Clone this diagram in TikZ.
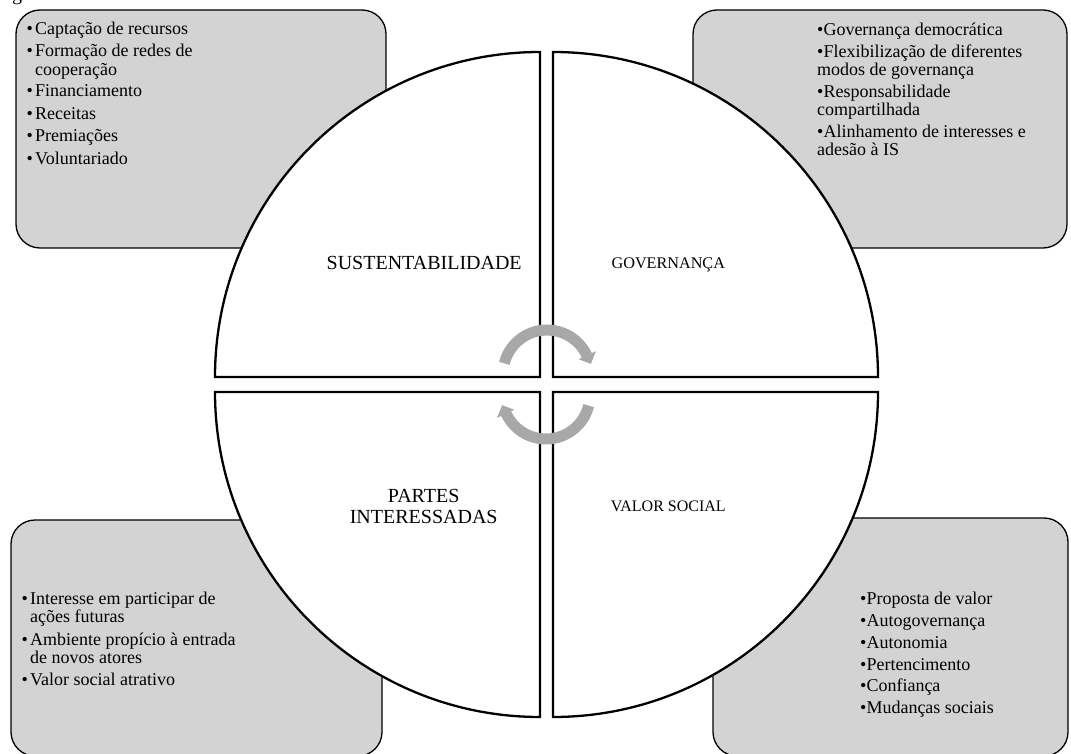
\documentclass[tikz,border=0pt]{standalone}
\usepackage{fontspec}
\setmainfont{Liberation Serif}
\definecolor{boxgray}{RGB}{211,211,211}
\definecolor{arrowgray}{RGB}{168,168,168}
\newcommand{\hbul}{\makebox[8.5pt][l]{\textbullet}}
\newcommand{\tbul}{\textbullet}
\begin{document}
\begin{tikzpicture}[x=1pt,y=-1pt,
  box/.style={draw=black, line width=1.3pt, fill=boxgray, rounded corners=24pt},
  quad/.style={draw=black, line width=2.3pt, fill=white, line join=miter},
  cyc/.style={draw=arrowgray, line width=11pt},
  tipfill/.style={fill=arrowgray},
  item/.style={anchor=base west, inner sep=0pt, font=\fontsize{18}{20}\selectfont},
  qlabel/.style={anchor=base, inner sep=0pt}]
\useasboundingbox (0,0) rectangle (1071,754);
\clip (0,0) rectangle (1071,754);
\fill[white] (0,0) rectangle (1071,754);

% caption fragment
\node[anchor=base west, inner sep=0pt, font=\fontsize{20}{20}\selectfont] (cap) at (12,0.5) {g};

% grey boxes
\draw[box] (16,10) rectangle (386,248);
\draw[box] (693,10) rectangle (1067,248);
\draw[box] (11,520) rectangle (382,756);
\draw[box] (713,518) rectangle (1068,756);

% quadrants
\draw[quad] (540,377) -- (215,377) arc[start angle=180, end angle=270, radius=325] -- cycle;
\draw[quad] (553,377) -- (553,52) arc[start angle=270, end angle=360, radius=325] -- cycle;
\draw[quad] (553,392) -- (878,392) arc[start angle=0, end angle=90, radius=325] -- cycle;
\draw[quad] (540,392) -- (540,717) arc[start angle=90, end angle=180, radius=325] -- cycle;

% cycle arrows
\begin{scope}[shift={(547,374)}]
  \draw[cyc] (194:44) arc[start angle=194, end angle=336, radius=44];
  \fill[tipfill] (335:35) -- (335:54) -- (347:45) -- cycle;
\end{scope}
\begin{scope}[shift={(546,395)}]
  \draw[cyc] (14:44) arc[start angle=14, end angle=156, radius=44];
  \fill[tipfill] (155:35) -- (155:54) -- (167:45) -- cycle;
\end{scope}

% quadrant labels
\node[qlabel, font=\fontsize{20}{21}\selectfont] (sus) at (424.2,269.3) {SUSTENTABILIDADE};
\node[qlabel, font=\fontsize{16.2}{18}\selectfont] (gov) at (668.3,268.3) {GOVERNANÇA};
\node[qlabel, font=\fontsize{20}{21}\selectfont] (par1) at (423.7,502.7) {PARTES};
\node[qlabel, font=\fontsize{20}{21}\selectfont] (par2) at (423.7,523.3) {INTERESSADAS};
\node[qlabel, font=\fontsize{16}{18}\selectfont] (vs) at (668.3,511.7) {VALOR SOCIAL};

% top-left list
\node[item] (tla) at (26.5,35) {\hbul Captação de recursos};
\node[item] (tlb) at (26.5,57) {\hbul Formação de redes de};
\node[item] (tlc) at (35,75.5) {cooperação};
\node[item] (tld) at (26.5,97) {\hbul Financiamento};
\node[item] (tle) at (26.5,120) {\hbul Receitas};
\node[item] (tlf) at (26.5,142) {\hbul Premiações};
\node[item] (tlg) at (26.5,164.5) {\hbul Voluntariado};

% top-right list
\node[item] (tra) at (817,36) {\tbul Governança democrática};
\node[item] (trb) at (817,57.3) {\tbul Flexibilização de diferentes};
\node[item] (trc) at (817,76) {modos de governança};
\node[item] (trd) at (817,97.3) {\tbul Responsabilidade};
\node[item] (tre) at (817,116) {compartilhada};
\node[item] (trf) at (817,137.3) {\tbul Alinhamento de interesses e};
\node[item] (trg) at (817,156) {adesão à IS};

% bottom-left list
\node[item] (bla) at (21.5,604.3) {\hbul Interesse em participar de};
\node[item] (blb) at (30,622.7) {ações futuras};
\node[item] (blc) at (21.5,645) {\hbul Ambiente propício à entrada};
\node[item] (bld) at (30,663.3) {de novos atores};
\node[item] (ble) at (21.5,685.7) {\hbul Valor social atrativo};

% bottom-right list
\node[item] (bra) at (860,604.3) {\tbul Proposta de valor};
\node[item] (brb) at (860,626.7) {\tbul Autogovernança};
\node[item] (brc) at (860,648.3) {\tbul Autonomia};
\node[item] (brd) at (860,670) {\tbul Pertencimento};
\node[item] (bre) at (860,691.7) {\tbul Confiança};
\node[item] (brf) at (860,713.3) {\tbul Mudanças sociais};
\end{tikzpicture}
\end{document}
